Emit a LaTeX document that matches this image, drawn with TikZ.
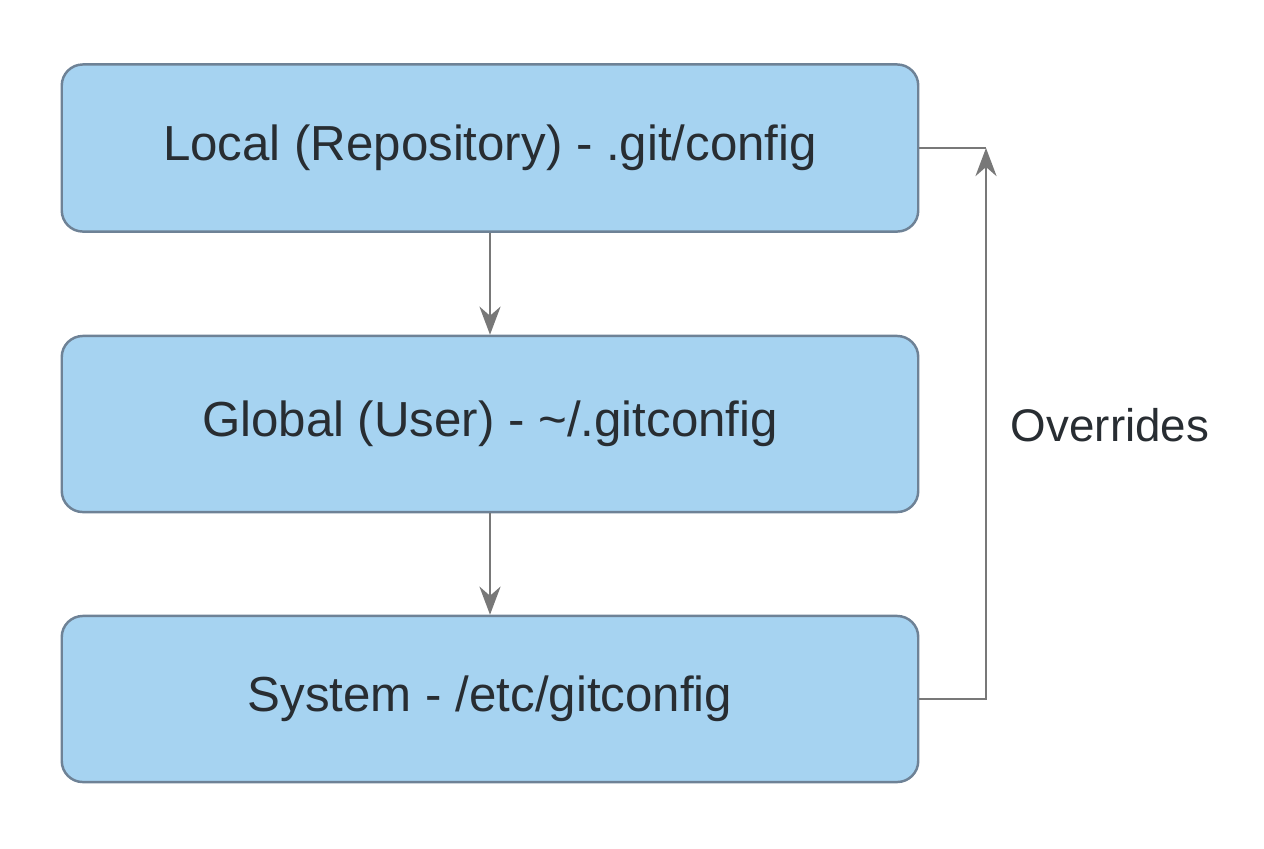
\documentclass[tikz,border=0pt]{standalone}
\usepackage{fontspec}
\setmainfont{Liberation Sans}
\usetikzlibrary{arrows.meta, positioning}
\definecolor{boxblue}{RGB}{166, 211, 241}
\definecolor{boxline}{RGB}{110, 130, 150}
\definecolor{arrowgray}{RGB}{120, 120, 120}
\definecolor{textdark}{RGB}{40, 45, 50}

\begin{document}
\begin{tikzpicture}[x=0.01cm, y=-0.01cm,
  level/.style={draw=boxline, fill=boxblue, rounded corners=6pt, line width=0.7pt,
    minimum width=8.56cm, minimum height=1.7cm, font=\fontsize{14}{17}\selectfont, text=textdark},
  flow/.style={-{Stealth[length=8pt, width=6pt]}, draw=arrowgray, line width=0.7pt}]
  \useasboundingbox (0, 0) rectangle (1264, 848);

  % Config levels
  \node[level, minimum height=1.67cm] (local) at (490, 148) {\raisebox{-2pt}{Local (Repository) - .git/config}};
  \node[level, minimum height=1.76cm] (global) at (490, 424) {\raisebox{-2pt}{Global (User) - \textasciitilde/.gitconfig}};
  \node[level, minimum height=1.66cm] (system) at (490, 699) {\raisebox{-2pt}{System - /etc/gitconfig}};

  % Down arrows
  \draw[flow] (local.south) -- (global.north);
  \draw[flow] (global.south) -- (system.north);

  % Override loop
  \coordinate (top) at (986, 148);
  \draw[flow] (system.east) -| (top);
  \draw[draw=arrowgray, line width=0.7pt] (local.east) -- (top);
  \node[font=\fontsize{13}{16}\selectfont, text=textdark] (over) at (1110, 425) {Overrides};
\end{tikzpicture}
\end{document}
